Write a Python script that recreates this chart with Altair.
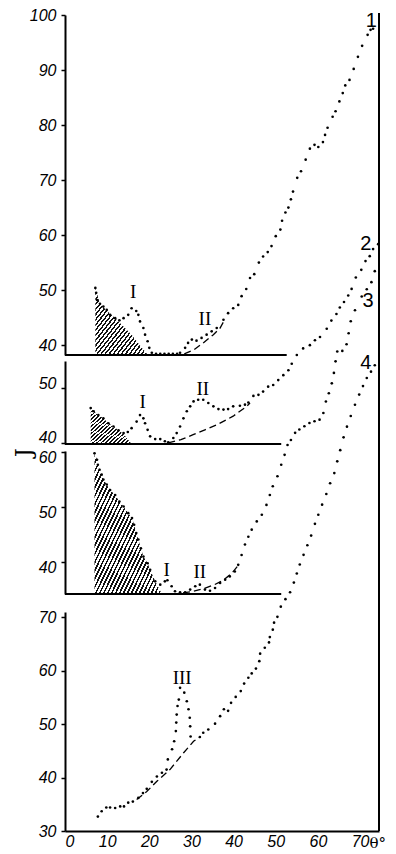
import altair as alt
import pandas as pd

# ---------------- data (theta in degrees, J in each panel's own units) ----------------
X_MAX = 74.5
X_TICKS = [0, 10, 20, 30, 40, 50, 60, 70]

curve1 = [(7.2, 50.4), (7.4, 49.5), (7.6, 48.2), (8.3, 47.5), (9.1, 47.0), (9.9, 46.4), (10.7, 45.5),
          (11.9, 44.9), (12.9, 44.5), (13.9, 44.9), (15.0, 45.5), (15.8, 46.7), (16.9, 46.2), (17.4, 45.5),
          (17.8, 44.3), (18.6, 43.1), (19.0, 41.9), (19.6, 40.7), (20.0, 39.5), (20.6, 38.6), (21.6, 38.4),
          (22.6, 38.4), (23.6, 38.4), (24.6, 38.4), (25.6, 38.4), (26.6, 38.4), (27.3, 38.6), (28.5, 39.5),
          (29.2, 40.4), (30.1, 41.0), (31.2, 40.8), (32.4, 41.3), (33.6, 41.9), (34.8, 42.5), (36.0, 43.1),
          (37.6, 44.6), (38.7, 45.8), (39.9, 46.7), (41.1, 47.3), (41.9, 48.9), (43.0, 50.2), (43.9, 52.2),
          (44.9, 52.9), (46.0, 55.0), (47.0, 56.1), (48.1, 56.9), (49.0, 58.0), (50.0, 59.8), (51.1, 61.0),
          (51.5, 62.6), (52.3, 64.1), (53.0, 65.0), (53.6, 66.5), (54.1, 67.9), (55.1, 70.4), (56.0, 71.6),
          (57.1, 73.7), (58.1, 75.7), (59.2, 76.4), (60.1, 76.0), (61.2, 76.9), (61.7, 78.2), (62.3, 79.5),
          (63.5, 81.5), (64.2, 82.5), (65.1, 84.3), (65.9, 85.8), (66.5, 87.2), (67.5, 88.2), (68.5, 90.2),
          (69.5, 92.4), (70.5, 94.4), (71.8, 96.4), (72.5, 97.3), (73.1, 97.5)]
dash1 = [(28.3, 38.4), (30.5, 39.1), (32.8, 40.4), (35.2, 41.9), (36.8, 43.1), (37.8, 44.5)]
hatch1 = [(7.2, 50.4), (8.3, 47.5), (10.0, 46.2), (11.9, 44.9), (14.0, 43.3), (15.8, 41.9), (17.0, 40.7),
          (18.2, 39.5), (19.7, 38.2)]

curve2 = [(6.1, 46.4), (6.8, 45.8), (7.9, 45.1), (9.1, 44.5), (10.3, 43.6), (11.5, 43.0), (12.7, 42.3),
          (13.9, 41.8), (14.9, 42.0), (15.8, 42.7), (17.0, 43.9), (17.8, 45.1), (18.6, 44.5), (19.0, 43.6),
          (19.6, 42.4), (20.2, 41.2), (21.4, 40.7), (22.6, 40.7), (23.7, 40.3), (24.5, 40.1), (25.7, 40.9),
          (26.5, 41.8), (27.3, 43.0), (28.1, 44.5), (28.9, 45.8), (29.7, 46.7), (30.5, 47.6), (31.6, 47.9),
          (32.8, 47.9), (34.0, 47.3), (35.2, 46.7), (36.4, 46.2), (37.6, 46.1), (38.7, 46.2), (39.9, 46.7),
          (41.5, 46.8), (42.7, 47.0), (43.5, 47.4), (44.7, 48.6), (45.9, 48.8), (47.0, 49.4), (48.2, 50.3),
          (49.4, 50.6), (50.6, 51.5), (51.8, 52.4), (53.0, 53.3), (53.8, 54.5), (55.0, 56.1), (56.5, 57.3),
          (58.1, 57.9), (59.3, 58.8), (60.5, 59.4), (62.1, 60.9), (63.2, 62.4), (64.4, 63.6), (65.2, 64.8),
          (66.2, 65.8), (67.2, 67.0), (68.0, 68.2), (69.0, 70.3), (70.3, 71.7), (71.3, 73.3), (72.3, 74.2),
          (73.1, 75.5), (74.3, 76.4)]
dash2 = [(24.5, 40.0), (27.5, 40.6), (30.4, 41.5), (33.2, 42.4), (36.0, 43.3), (39.9, 44.9), (43.1, 46.7),
         (43.9, 47.3)]
hatch2 = [(6.1, 46.4), (6.8, 45.8), (7.9, 45.1), (9.1, 44.5), (10.3, 43.6), (11.5, 43.0), (12.7, 42.3),
          (13.9, 41.6), (15.0, 40.6), (15.8, 39.8)]

curve3 = [(7.0, 59.8), (7.6, 58.6), (7.8, 57.7), (8.2, 56.8), (8.7, 55.9), (9.1, 55.0), (9.9, 54.1),
          (10.7, 53.1), (11.9, 52.2), (12.9, 51.0), (13.9, 50.1), (15.0, 48.9), (15.9, 48.0), (16.4, 46.8),
          (16.9, 45.3), (17.4, 44.1), (18.0, 42.5), (18.6, 41.0), (19.6, 39.8), (20.2, 38.6), (21.4, 36.5),
          (22.6, 35.9), (23.7, 36.5), (24.3, 36.7), (25.3, 35.6), (26.1, 34.7), (27.3, 34.5), (28.5, 34.5),
          (29.7, 35.0), (30.9, 35.6), (32.0, 35.9), (33.2, 35.0), (34.4, 34.8), (35.6, 35.3), (36.8, 36.2),
          (38.0, 36.8), (39.1, 37.4), (40.3, 38.3), (41.1, 39.5), (41.9, 41.3), (42.7, 43.2), (43.5, 44.6),
          (44.3, 45.9), (45.5, 47.4), (46.7, 48.6), (47.8, 50.4), (48.6, 52.2), (49.3, 53.8), (50.4, 55.6),
          (51.3, 57.7), (52.1, 59.5), (52.8, 61.3), (53.6, 62.2), (54.6, 63.5), (55.6, 64.1), (56.8, 64.7),
          (58.0, 65.3), (59.2, 65.6), (60.4, 65.9), (61.3, 67.1), (61.9, 69.2), (62.6, 70.7), (63.3, 72.5),
          (63.8, 74.4), (64.2, 76.5), (64.6, 78.3), (65.8, 78.4), (66.8, 79.6), (67.3, 81.6), (67.8, 83.8),
          (68.8, 85.8), (70.4, 88.3), (71.6, 89.6), (72.7, 90.9), (73.5, 92.9)]
dash3 = [(28.0, 34.4), (30.5, 34.7), (33.0, 35.2), (35.5, 35.9), (37.5, 36.7), (39.5, 37.9), (41.0, 39.3)]
hatch3 = [(7.0, 59.8), (7.6, 58.6), (8.2, 56.8), (9.1, 55.0), (9.9, 54.1), (10.7, 53.1), (11.9, 52.2),
          (12.9, 51.0), (13.9, 50.1), (15.0, 48.9), (15.9, 48.0), (16.4, 46.8), (16.9, 45.3), (17.4, 44.1),
          (18.0, 42.5), (18.6, 41.0), (19.6, 39.8), (20.2, 38.6), (21.0, 37.2), (22.0, 35.6), (23.0, 34.2)]

curve4 = [(7.8, 32.7), (8.7, 33.7), (9.8, 34.4), (10.7, 34.4), (11.9, 34.3), (13.1, 34.6), (14.0, 34.6),
          (15.0, 35.3), (16.1, 35.5), (17.4, 36.2), (18.5, 37.1), (19.4, 37.9), (20.6, 39.2), (21.8, 40.2),
          (23.0, 40.9), (24.1, 41.5), (24.4, 43.4), (25.4, 45.3), (25.9, 46.8), (26.3, 48.7), (26.4, 50.3),
          (26.5, 51.8), (26.7, 53.4), (27.0, 54.6), (27.3, 56.8), (28.3, 55.9), (28.9, 54.3), (29.3, 52.8),
          (29.6, 51.2), (29.7, 49.6), (29.8, 47.7), (32.0, 47.6), (32.8, 48.4), (34.0, 49.0), (35.6, 50.1),
          (36.8, 51.5), (37.7, 52.8), (38.7, 52.5), (39.4, 54.0), (40.5, 55.1), (41.7, 56.2), (42.5, 57.6),
          (43.5, 58.7), (44.3, 59.5), (45.3, 60.4), (46.1, 61.8), (46.3, 63.2), (47.4, 64.3), (48.4, 65.3),
          (48.6, 66.3), (49.3, 67.7), (49.6, 69.0), (50.4, 70.1), (51.2, 72.0), (52.3, 73.4), (53.4, 74.7),
          (54.3, 76.5), (55.0, 78.2), (55.7, 79.9), (56.6, 81.7), (57.5, 83.5), (58.4, 85.3), (59.3, 87.5),
          (60.1, 89.2), (61.0, 91.1), (62.0, 93.1), (62.9, 95.1), (63.9, 97.0), (64.6, 99.2), (65.3, 101.3),
          (66.1, 103.7), (66.9, 105.7), (67.8, 107.7), (68.8, 109.8), (69.8, 111.7), (70.7, 113.3),
          (71.6, 114.8), (72.6, 116.0), (73.5, 117.2)]
dash4 = [(17.0, 35.9), (19.4, 37.4), (21.8, 39.3), (24.9, 41.5), (28.1, 44.6), (30.5, 46.8), (32.0, 47.6)]

# panel y-scales: value domains and tick values
dom1, ticks1 = [38.2, 100], [40, 50, 60, 70, 80, 90, 100]
dom2, ticks2 = [39.8, 55], [40, 50]
dom3, ticks3 = [34.2, 60.2], [40, 50, 60]
dom4, ticks4 = [30, 71], [30, 40, 50, 60, 70]

# baselines (theta end of the zero line) for panels 1-3
base_end = [52.6, 51.3, 51.3]

# annotations: (theta, J, text)
romans1 = [(16.2, 49.6, "I"), (33.2, 44.8, "II")]
romans2 = [(18.4, 47.5, "I"), (32.7, 49.8, "II")]
romans3 = [(24.1, 38.6, "I"), (32.0, 38.2, "II")]
romans4 = [(27.8, 58.7, "III")]
numbers = [(72.7, 99.0, "1"), (71.4, 76.5, "2"), (71.9, 87.5, "3"), (71.4, 117.6, "4")]

# ---------------- layout ----------------
W, H = 314, 821
ranges = [[345, 5], [434, 351], [584, 441], [821, 602]]
label_offsets = [0, -5, 5, 0]
LABEL_FONT = "Liberation Sans"
xs = alt.Scale(domain=[0, X_MAX], nice=False, zero=False)

X_AXIS = alt.Axis(values=X_TICKS, grid=False, ticks=False, domainColor="black", domainWidth=2,
                  labelFont=LABEL_FONT, labelFontSize=16, labelFontStyle="italic", labelColor="black",
                  labelPadding=2, title="θ°", titleX=304, titleY=16, titleAlign="left",
                  titleBaseline="alphabetic", titleFontSize=15, titleFontWeight="normal",
                  titleFont="DejaVu Serif", titleColor="black")


def X(field):
    return alt.X(field, scale=xs, axis=X_AXIS)


def hatch_fill(n, dark=0.45):
    stops = []
    for k in range(n):
        a, b, c = k / n, (k + dark) / n, (k + 1) / n
        stops += [alt.GradientStop(color="#111111", offset=a),
                  alt.GradientStop(color="#111111", offset=b),
                  alt.GradientStop(color="#ffffff", offset=b),
                  alt.GradientStop(color="#ffffff", offset=c)]
    return alt.LinearGradient(gradient="linear", stops=stops, x1=0, y1=0, x2=1, y2=1)


def panel_layers(curve, dash, hatch, dom, rng, ticks, romans, number, base=None, stripes=20,
                 y_title=None, label_offset=0):
    def ys():
        return alt.Scale(domain=dom, range=rng, nice=False, zero=False)

    layers = []
    if hatch is not None:
        dh = pd.DataFrame(hatch, columns=["theta", "J"])
        dh["base"] = dom[0]
        layers.append(alt.Chart(dh).mark_area(fill=hatch_fill(stripes), strokeWidth=0).encode(
            x=X("theta:Q"), y=alt.Y("J:Q", scale=ys(), axis=None), y2="base:Q"))
    if base is not None:
        db = pd.DataFrame({"x0": [0], "x1": [base], "y": [dom[0]]})
        layers.append(alt.Chart(db).mark_rule(color="black", strokeWidth=2).encode(
            x=X("x0:Q"), x2="x1:Q", y=alt.Y("y:Q", scale=ys(), axis=None)))
    dd = pd.DataFrame(dash, columns=["theta", "J"])
    layers.append(alt.Chart(dd).mark_line(color="black", strokeWidth=1.3, strokeDash=[7, 4]).encode(
        x=X("theta:Q"), y=alt.Y("J:Q", scale=ys(), axis=None)))
    axis_kw = dict(orient="left", values=ticks, grid=False, domainColor="black", domainWidth=2,
                   tickColor="black", tickSize=4, tickWidth=1.5, labelFont=LABEL_FONT,
                   labelFontSize=16, labelFontStyle="italic", labelColor="black", labelPadding=5,
                   labelOffset=label_offset)
    if y_title:
        axis_kw.update(title=y_title, titleX=-30, titleY=442, titleFontSize=22, titleFont="DejaVu Serif",
                       titleFontWeight="normal", titleColor="black", titleAngle=270)
    else:
        axis_kw.update(title=None)
    dc = pd.DataFrame(curve, columns=["theta", "J"])
    layers.append(alt.Chart(dc).mark_circle(color="black", size=7, opacity=1).encode(
        x=X("theta:Q"), y=alt.Y("J:Q", scale=ys(), axis=alt.Axis(**axis_kw))))
    dr = pd.DataFrame(romans, columns=["theta", "J", "txt"])
    layers.append(alt.Chart(dr).mark_text(font="Liberation Serif", fontSize=19, color="black").encode(
        x=X("theta:Q"), y=alt.Y("J:Q", scale=ys(), axis=None), text="txt:N"))
    dn = pd.DataFrame([number], columns=["theta", "J", "txt"])
    layers.append(alt.Chart(dn).mark_text(font=LABEL_FONT, fontSize=20, color="black").encode(
        x=X("theta:Q"), y=alt.Y("J:Q", scale=ys(), axis=None), text="txt:N"))
    return layers


all_layers = []
all_layers += panel_layers(curve1, dash1, hatch1, dom1, ranges[0], ticks1, romans1, numbers[0],
                           base=base_end[0], stripes=26, label_offset=label_offsets[0])
all_layers += panel_layers(curve2, dash2, hatch2, dom2, ranges[1], ticks2, romans2, numbers[1],
                           base=base_end[1], stripes=20, y_title="J", label_offset=label_offsets[1])
all_layers += panel_layers(curve3, dash3, hatch3, dom3, ranges[2], ticks3, romans3, numbers[2],
                           base=base_end[2], stripes=34, label_offset=label_offsets[2])
all_layers += panel_layers(curve4, dash4, None, dom4, ranges[3], ticks4, romans4, numbers[3],
                           label_offset=label_offsets[3])

frame = alt.Chart(pd.DataFrame({"x": [X_MAX]})).mark_rule(color="black", strokeWidth=2).encode(
    x=X("x:Q"), y=alt.value(3), y2=alt.value(H))
all_layers.append(frame)

chart = alt.layer(*all_layers).resolve_scale(y="independent").properties(
    width=W, height=H,
    autosize=alt.AutoSizeParams(type="none"),
    padding={"left": 57, "top": 2, "right": 9, "bottom": 21},
    background="white",
).configure_view(stroke=None)

chart.save("out.html", embed_options={"renderer": "svg", "actions": False})
